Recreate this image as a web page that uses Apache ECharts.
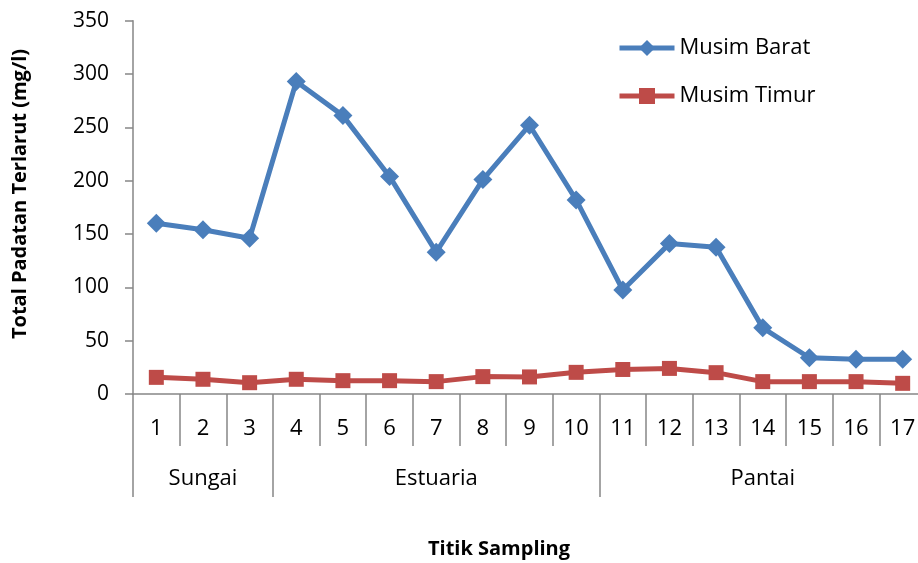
<!DOCTYPE html>
<html><head><meta charset="utf-8">
<script src="https://cdn.jsdelivr.net/npm/echarts@6/dist/echarts.min.js"></script>
<style>html,body{margin:0;padding:0;background:#fff}#c{width:918px;height:563px}</style>
</head><body><div id="c"></div>
<script>
const categories = ['1','2','3','4','5','6','7','8','9','10','11','12','13','14','15','16','17'];
const groupLabels = ['', 'Sungai', '', '', '', '', 'Estuaria', '', '', '', '', '', '', 'Pantai', '', '', ''];
const groupBoundaries = [0, 3, 10, 17];
const musimBarat = [160, 154, 146, 293, 261, 204, 133, 201, 252, 182, 97.5, 141, 137.5, 62, 34, 32.5, 32.5];
const musimTimur = [15.6, 13.8, 10.6, 13.8, 12.5, 12.5, 11.6, 16.3, 16, 20.3, 23, 24, 20, 11.6, 11.6, 11.6, 10];
const yTicks = [0, 50, 100, 150, 200, 250, 300, 350];

const FONT = '"Open Sans", Lato, sans-serif';
const AX = '#868686';
const chart = echarts.init(document.getElementById('c'));
chart.setOption({
  animation: false,
  grid: { left: 133, right: -8, top: 20.7, bottom: 169, containLabel: false, outerBoundsMode: 'none' },
  legend: {
    orient: 'vertical', left: 612, top: 32,
    itemWidth: 55, itemHeight: 20, itemGap: 26,
    textStyle: { fontFamily: FONT, fontSize: 22, color: '#000' },
    lineStyle: { width: 5 },
    data: ['Musim Barat', 'Musim Timur']
  },
  xAxis: [
    {
      type: 'category', data: categories, position: 'bottom',
      axisLine: { lineStyle: { color: AX, width: 1.5 } },
      axisTick: { show: true, length: 52, lineStyle: { color: AX, width: 1.5 } },
      axisLabel: { fontFamily: FONT, fontSize: 22, color: '#000', margin: 24, interval: 0 }
    },
    {
      type: 'category', data: groupLabels, position: 'bottom', offset: 52,
      axisLine: { show: false },
      axisTick: { show: true, length: 51, interval: function (i) { return groupBoundaries.indexOf(i) >= 0; }, lineStyle: { color: AX, width: 1.5 } },
      axisLabel: { fontFamily: FONT, fontSize: 22, color: '#000', margin: 22, interval: 0 }
    }
  ],
  yAxis: {
    type: 'value', min: 0, max: 350, interval: 50,
    axisLine: { show: true, lineStyle: { color: AX, width: 1.5 } },
    axisTick: { show: true, length: 8, lineStyle: { color: AX, width: 1.5 } },
    splitLine: { show: false },
    axisLabel: { fontFamily: FONT, fontSize: 21, color: '#000', margin: 24,
      formatter: function (v) { return yTicks.indexOf(v) >= 0 ? String(v) : ''; } }
  },
  graphic: [
    {
      type: 'text', x: 20, y: 194, rotation: Math.PI / 2,
      style: { text: 'Total Padatan Terlarut (mg/l)', fontFamily: FONT, fontSize: 20, fontWeight: 'bold', fill: '#000', align: 'center', verticalAlign: 'middle' }
    },
    {
      type: 'text', x: 499, y: 549,
      style: { text: 'Titik Sampling', fontFamily: FONT, fontSize: 20, fontWeight: 'bold', fill: '#000', align: 'center', verticalAlign: 'middle' }
    }
  ],
  series: [
    {
      name: 'Musim Barat', type: 'line', data: musimBarat,
      symbol: 'diamond', symbolSize: 19,
      itemStyle: { color: '#4a7ebb' }, lineStyle: { color: '#4a7ebb', width: 5 }
    },
    {
      name: 'Musim Timur', type: 'line', data: musimTimur,
      symbol: 'rect', symbolSize: 15,
      itemStyle: { color: '#be4b48' }, lineStyle: { color: '#be4b48', width: 5 }
    }
  ]
});
</script></body></html>
